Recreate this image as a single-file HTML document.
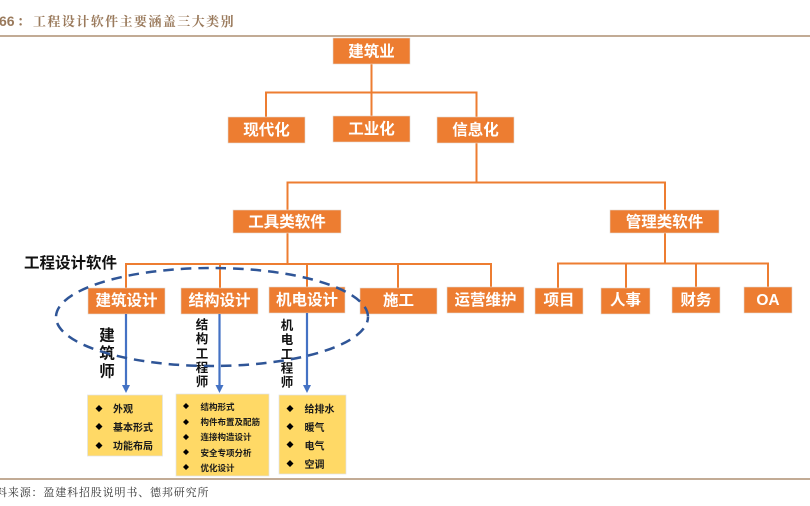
<!DOCTYPE html>
<html><head><meta charset="utf-8">
<style>
html,body{margin:0;padding:0;background:#fff;width:810px;height:506px;overflow:hidden}
svg{display:block;filter:blur(.35px)}
text{font-family:"Liberation Sans","Noto Sans CJK SC",sans-serif}
.b{fill:#fff;font-weight:700;font-size:15.5px;text-anchor:middle}
.y{fill:#1a1a1a;font-weight:700;font-size:10px}
.s{fill:#1a1a1a;font-weight:700;font-size:8.5px}
.v{fill:#111;font-weight:700;text-anchor:middle}
</style></head><body>
<svg width="810" height="506" viewBox="0 0 810 506" xmlns="http://www.w3.org/2000/svg">
<text x="-1" y="26" font-size="14" font-weight="700" fill="#9a7a5c">66</text>
<text x="17" y="26" font-size="13.500" font-weight="700" fill="#9a7a5c" style="font-family:'Liberation Serif','Noto Serif CJK SC',serif">：</text>
<text x="33" y="26" font-size="13" font-weight="700" fill="#9a7a5c" letter-spacing="1.430" style="font-family:'Liberation Serif','Noto Serif CJK SC',serif">工程设计软件主要涵盖三大类别</text>
<rect x="0" y="35" width="810" height="2" fill="#c2ab95"/>

<g fill="none" stroke="#ed7d31" stroke-width="2">
<path d="M371.500 63V117M266 117V92.500H476.500V117"/>
<path d="M476.500 143V182.500M287.500 210V182.500H665V210"/>
<path d="M287.500 233V264M126 288V264H491V288M220 264V288M307 264V288M398 264V288"/>
<path d="M665 233V263.500M558 288V263.500H768V288M626 263.500V288M696 263.500V288"/>
</g>

<g fill="#ed7d31" stroke="#e3d9d2" stroke-width=".6">
<rect x="333" y="38" width="77" height="26"/>
<rect x="228" y="117" width="77" height="26"/>
<rect x="333" y="116" width="77" height="26"/>
<rect x="437" y="117" width="77" height="26"/>
<rect x="233" y="210" width="108" height="23"/>
<rect x="610" y="210" width="109" height="23"/>
<rect x="88" y="288" width="77" height="26"/>
<rect x="181" y="288" width="77" height="26"/>
<rect x="269" y="287" width="76" height="26"/>
<rect x="360" y="288" width="77" height="26"/>
<rect x="447" y="287" width="77" height="26"/>
<rect x="535" y="288" width="48" height="26"/>
<rect x="601" y="288" width="49" height="26"/>
<rect x="672" y="287" width="48" height="26"/>
<rect x="744" y="287" width="48" height="26"/>
</g>

<text class="b" x="371.500" y="56.500">建筑业</text>
<text class="b" x="266.500" y="135">现代化</text>
<text class="b" x="371.500" y="134">工业化</text>
<text class="b" x="475.500" y="135">信息化</text>
<text class="b" x="287" y="227">工具类软件</text>
<text class="b" x="664.500" y="227">管理类软件</text>
<text class="b" x="126.500" y="305.500">建筑设计</text>
<text class="b" x="219.500" y="305.500">结构设计</text>
<text class="b" x="307" y="305">机电设计</text>
<text class="b" x="398.500" y="305.500">施工</text>
<text class="b" x="485.500" y="305">运营维护</text>
<text class="b" x="559" y="305">项目</text>
<text class="b" x="625.500" y="305">人事</text>
<text class="b" x="696" y="305">财务</text>
<text class="b" x="768" y="305">OA</text>

<text x="24" y="268" font-size="15.500" font-weight="700" fill="#111">工程设计软件</text>

<g stroke="#4472c4" stroke-width="2.200" fill="none">
<path d="M126 314V388M219.500 314V388M307 313V388"/>
</g>
<g fill="#4472c4">
<path d="M122 385H130L126 393Z"/>
<path d="M215.500 385H223.500L219.500 393Z"/>
<path d="M303 385H311L307 393Z"/>
</g>

<text class="v" font-size="15.500" x="107" y="340.500">建</text>
<text class="v" font-size="15.500" x="107" y="358.500">筑</text>
<text class="v" font-size="15.500" x="107" y="376.500">师</text>
<text class="v" font-size="12.500" x="202" y="329">结</text>
<text class="v" font-size="12.500" x="202" y="343">构</text>
<text class="v" font-size="12.500" x="202" y="358">工</text>
<text class="v" font-size="12.500" x="202" y="372">程</text>
<text class="v" font-size="12.500" x="202" y="386">师</text>
<text class="v" font-size="12.500" x="287" y="329.500">机</text>
<text class="v" font-size="12.500" x="287" y="344">电</text>
<text class="v" font-size="12.500" x="287" y="358.500">工</text>
<text class="v" font-size="12.500" x="287" y="372.500">程</text>
<text class="v" font-size="12.500" x="287" y="386.500">师</text>

<ellipse cx="212" cy="317" rx="156" ry="49" fill="none" stroke="#2f5597" stroke-width="2.500" stroke-dasharray="10.500 7" stroke-dashoffset="5"/>

<g fill="#ffd966" stroke="#dfe3ea" stroke-width=".7">
<rect x="87.500" y="395" width="75" height="61"/>
<rect x="176" y="394" width="93" height="82"/>
<rect x="279" y="395" width="67" height="79"/>
</g>

<g fill="#000">
<path d="M99 405l3.500 3.500-3.500 3.500-3.500-3.500zM99 423l3.500 3.500-3.500 3.500-3.500-3.500zM99 442l3.500 3.500-3.500 3.500-3.500-3.500z"/>
<path d="M186 403l3 3-3 3-3-3zM186 419l3 3-3 3-3-3zM186 434l3 3-3 3-3-3zM186 449l3 3-3 3-3-3zM186 464l3 3-3 3-3-3z"/>
<path d="M290 405l3.500 3.500-3.500 3.500-3.500-3.500zM290 423l3.500 3.500-3.500 3.500-3.500-3.500zM290 441l3.500 3.500-3.500 3.500-3.500-3.500zM290 460l3.500 3.500-3.500 3.500-3.500-3.500z"/>
</g>
<text class="y" x="113" y="412.500">外观</text>
<text class="y" x="113" y="431">基本形式</text>
<text class="y" x="113" y="449.500">功能布局</text>
<text class="s" x="200.500" y="410">结构形式</text>
<text class="s" x="200.500" y="425">构件布置及配筋</text>
<text class="s" x="200.500" y="440">连接构造设计</text>
<text class="s" x="200.500" y="456">安全专项分析</text>
<text class="s" x="200.500" y="471">优化设计</text>
<text class="y" x="304.500" y="412.500">给排水</text>
<text class="y" x="304.500" y="431">暖气</text>
<text class="y" x="304.500" y="449.500">电气</text>
<text class="y" x="304.500" y="468">空调</text>

<rect x="0" y="478" width="810" height="2" fill="#c2ab95"/>
<text x="-4" y="496" font-size="11" fill="#333" letter-spacing=".85" style="font-family:'Liberation Serif','Noto Serif CJK SC',serif">料来源：盈建科招股说明书、德邦研究所</text>
</svg>
</body></html>
